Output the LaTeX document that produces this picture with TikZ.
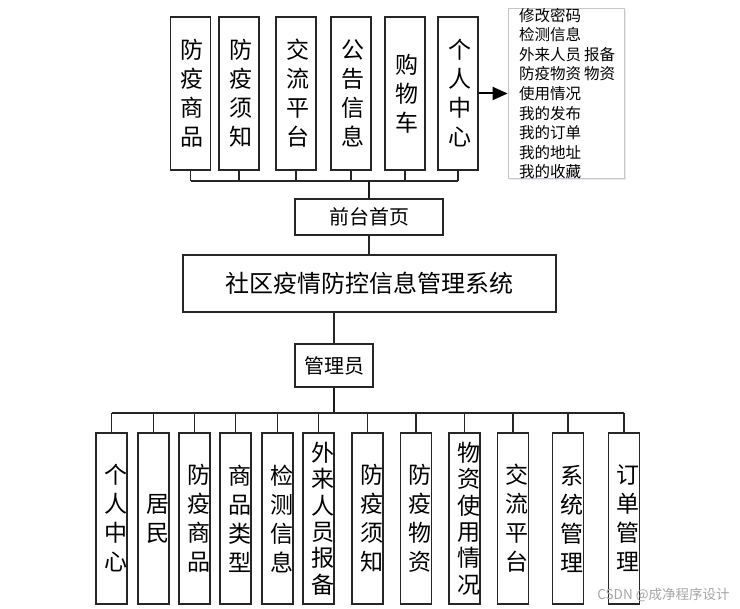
\documentclass[tikz,border=0pt]{standalone}
\usepackage{fontspec}
\newfontfamily\cjk{Noto Sans CJK SC}
\usetikzlibrary{arrows.meta,shadows}
\begin{document}
\begin{tikzpicture}[x=1pt,y=-1pt,
  box/.style={draw=black!85, line width=1.4pt, inner sep=0pt},
  tbox/.style={box, minimum width=40pt, minimum height=153pt},
  bbox/.style={box, minimum width=31pt, minimum height=171pt},
  vtxt/.style={align=center, inner sep=0pt, font=\cjk\fontsize{23}{29}\selectfont},
  vtxtb/.style={align=center, inner sep=0pt, font=\cjk\fontsize{23}{26.4}\selectfont},
  link/.style={draw=black!85, line width=1.4pt},
  trunk/.style={draw=black!90, line width=2.2pt},
]
\useasboundingbox[fill=white] (0,0) rectangle (740,609);

% ---------- top modules ----------
\node[tbox] (t1) at (190.5,93.5) {};
\node[tbox] (t2) at (239,93.5) {};
\node[tbox] (t3) at (296,93.5) {};
\node[tbox] (t4) at (351,93.5) {};
\node[tbox] (t5) at (405,93.5) {};
\node[tbox] (t6) at (458,93.5) {};
\node[vtxt] (t1t) at ([xshift=1.5]t1.center) {防\\疫\\商\\品};
\node[vtxt] (t2t) at ([xshift=1.5]t2.center) {防\\疫\\须\\知};
\node[vtxt] (t3t) at ([xshift=1.5]t3.center) {交\\流\\平\\台};
\node[vtxt] (t4t) at ([xshift=1.5]t4.center) {公\\告\\信\\息};
\node[vtxt] (t5t) at ([xshift=1.5]t5.center) {购\\物\\车};
\node[vtxt] (t6t) at ([xshift=1.5]t6.center) {个\\人\\中\\心};

% list box
\node[draw=black!22, line width=0.8pt, fill=white, minimum width=116pt, minimum height=170pt, inner sep=0pt,
      drop shadow={shadow xshift=1.5pt, shadow yshift=-2.5pt, opacity=0.25, fill=blue!35}] (lst) at (566,93) {};
\node[anchor=west, align=left, inner sep=0pt, font=\cjk\fontsize{15.5}{19.6}\selectfont] (lstt) at (519,93.5)
  {修改密码\\检测信息\\外来人员\hspace{3pt}报备\\防疫物资\hspace{3pt}物资\\使用情况\\我的发布\\我的订单\\我的地址\\我的收藏};
\draw[line width=2pt, -{Triangle[length=15pt,width=13pt]}] (t6.east) -- (t6.east -| lst.west);

% front home
\node[box, minimum width=148pt, minimum height=36pt, font=\cjk\fontsize{20}{24}\selectfont] (home) at (369,217) {前台首页};
\coordinate (tb) at (369,181);
\draw[link] (t1.south |- tb) -- (t6.south |- tb);
\foreach \n in {t1,t2,t3,t4,t5,t6} \draw[link] (\n.south) -- (\n.south |- tb);
\draw[trunk] (home.north) -- (tb);

% main system box
\node[box, minimum width=373pt, minimum height=57pt, font=\cjk\fontsize{24}{28}\selectfont] (main) at (369.5,283.5) {社区疫情防控信息管理系统};
\draw[link] (home.south) -- (home.south |- main.north);

% admin
\node[box, minimum width=78pt, minimum height=43pt, font=\cjk\fontsize{20}{24}\selectfont] (admin) at (334,365.5) {管理员};
\draw[link] (admin.north) -- (admin.north |- main.south);
\coordinate (bb) at (334,413);
\draw[trunk] (admin.south) -- (bb);

% bottom modules
\node[bbox] (b1) at (111.5,518.5) {};
\node[bbox] (b2) at (153.5,518.5) {};
\node[bbox] (b3) at (194.5,518.5) {};
\node[bbox] (b4) at (235.5,518.5) {};
\node[bbox] (b5) at (277.5,518.5) {};
\node[bbox] (b6) at (318.5,518.5) {};
\node[bbox] (b7) at (367.5,518.5) {};
\node[bbox] (b8) at (416,518.5) {};
\node[bbox] (b9) at (464.5,518.5) {};
\node[bbox] (b10) at (513,518.5) {};
\node[bbox] (b11) at (568,518.5) {};
\node[bbox] (b12) at (624,518.5) {};
\node[vtxt] (b1t) at ([xshift=4]b1.center) {个\\人\\中\\心};
\node[vtxt] (b2t) at ([xshift=4]b2.center) {居\\民};
\node[vtxt] (b3t) at ([xshift=4]b3.center) {防\\疫\\商\\品};
\node[vtxt] (b4t) at ([xshift=4]b4.center) {商\\品\\类\\型};
\node[vtxt] (b5t) at ([xshift=4]b5.center) {检\\测\\信\\息};
\node[vtxtb] (b6t) at ([xshift=4]b6.center) {外\\来\\人\\员\\报\\备};
\node[vtxt] (b7t) at ([xshift=4]b7.center) {防\\疫\\须\\知};
\node[vtxt] (b8t) at ([xshift=4]b8.center) {防\\疫\\物\\资};
\node[vtxtb] (b9t) at ([xshift=4]b9.center) {物\\资\\使\\用\\情\\况};
\node[vtxt] (b10t) at ([xshift=4]b10.center) {交\\流\\平\\台};
\node[vtxt] (b11t) at ([xshift=4]b11.center) {系\\统\\管\\理};
\node[vtxt] (b12t) at ([xshift=4]b12.center) {订\\单\\管\\理};
\draw[link] (b1.north |- bb) -- (b12.north |- bb);
\foreach \n in {b1,b2,b3,b4,b5,b6,b7,b8,b9,b10,b11,b12} \draw[link] (\n.north) -- (\n.north |- bb);

% watermark
\node[font=\cjk\fontsize{13.5}{15}\selectfont, text=black!35, inner sep=0pt] (wm) at (663.5,595) {CSDN @成净程序设计};
\end{tikzpicture}
\end{document}
